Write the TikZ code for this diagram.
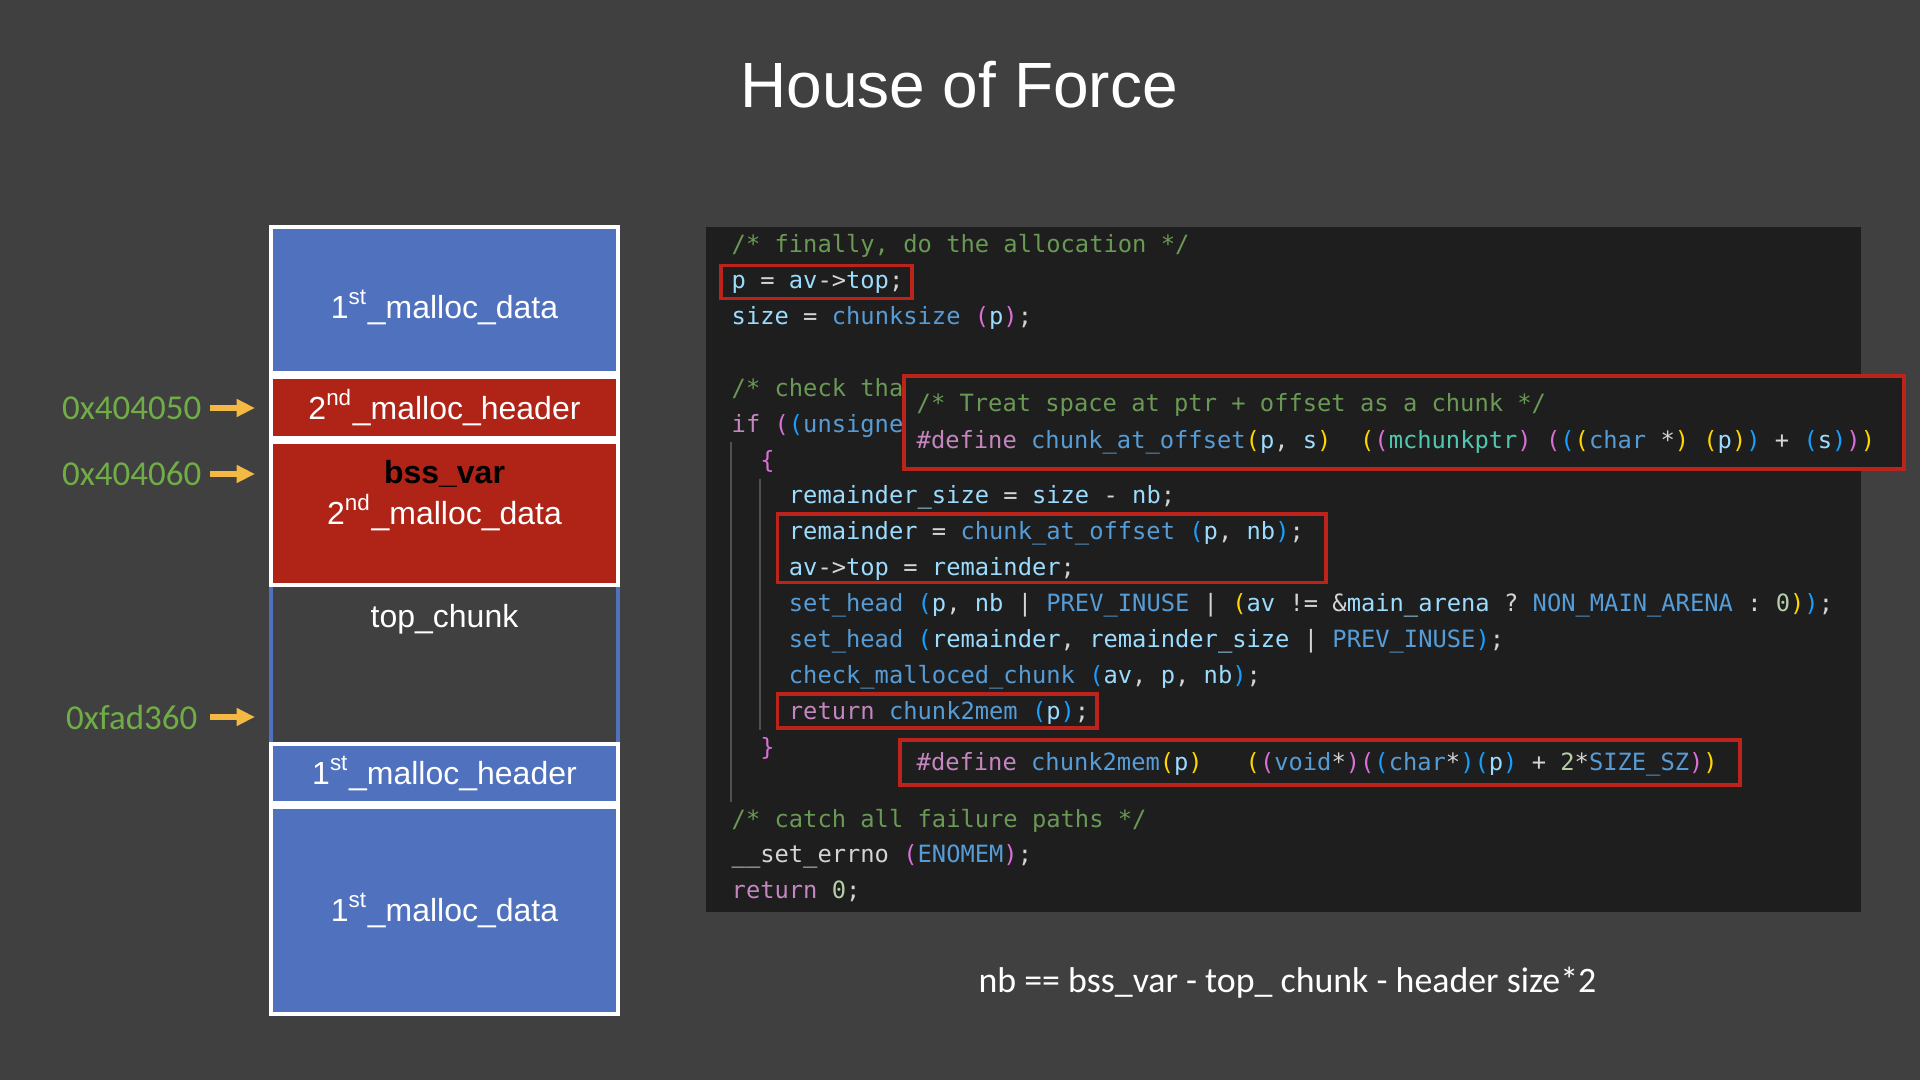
\documentclass[tikz,border=0pt]{standalone}
\usepackage{fontspec}
\setmainfont{Liberation Sans}
\setmonofont{DejaVu Sans Mono}
\newfontfamily\calfont{Carlito}
\usepackage{tikz}
\usetikzlibrary{arrows.meta,positioning}
\usepackage{xcolor}
\definecolor{hfBg}{HTML}{404040}
\definecolor{hfBlue}{HTML}{4F71BE}
\definecolor{hfRed}{HTML}{B02418}
\definecolor{hfGold}{HTML}{F4B942}
\definecolor{hfGreen}{HTML}{70AD47}
\definecolor{cdBg}{HTML}{1E1E1E}
\definecolor{cdRed}{HTML}{BC231A}
\definecolor{cdGuide}{HTML}{505050}
\definecolor{cdText}{HTML}{D4D4D4}
\definecolor{cdCom}{HTML}{6A9955}
\definecolor{cdVar}{HTML}{9CDCFE}
\definecolor{cdFun}{HTML}{569CD6}
\definecolor{cdKey}{HTML}{C586C0}
\definecolor{cdType}{HTML}{4EC9B0}
\definecolor{cdNum}{HTML}{B5CEA8}
\definecolor{brYel}{HTML}{FFD700}
\definecolor{brPnk}{HTML}{DA70D6}
\definecolor{brBlu}{HTML}{179FFF}
\newcommand{\cCm}[1]{\textcolor{cdCom}{#1}}
\newcommand{\cVr}[1]{\textcolor{cdVar}{#1}}
\newcommand{\cFn}[1]{\textcolor{cdFun}{#1}}
\newcommand{\cKw}[1]{\textcolor{cdKey}{#1}}
\newcommand{\cTy}[1]{\textcolor{cdType}{#1}}
\newcommand{\cNm}[1]{\textcolor{cdNum}{#1}}
\newcommand{\bY}[1]{\textcolor{brYel}{#1}}
\newcommand{\bP}[1]{\textcolor{brPnk}{#1}}
\newcommand{\bB}[1]{\textcolor{brBlu}{#1}}
\tikzset{
  blk/.style={draw=white, line width=1.14pt, minimum width=3.47cm, inner sep=0pt, text=white, font=\fontsize{9.1}{11.7}\selectfont},
  lbl/.style={inner sep=0pt, outer sep=0pt, text=white, align=center, font=\fontsize{9.1}{11.7}\selectfont},
  topside/.style={draw=hfBlue, line width=1.14pt},
  addr/.style={inner sep=0pt, anchor=east, text=hfGreen, font=\calfont\fontsize{9.95}{12}\selectfont},
  goldarr/.style={-{Triangle[length=5.2pt,width=4.8pt]}, line width=1.9pt, draw=hfGold, shorten <=0.08cm, shorten >=0.14cm},
  codebg/.style={fill=cdBg, inner sep=0pt},
  code/.style={inner sep=0pt, anchor=base west, text=cdText, font=\ttfamily\fontsize{6.76}{8}\selectfont},
  hl/.style={draw=cdRed, line width=0.9pt, inner sep=0pt},
  ovl/.style={draw=cdRed, fill=cdBg, line width=0.9pt, inner sep=0pt},
  guide/.style={draw=cdGuide, line width=0.3pt}
}
\begin{document}
\begin{tikzpicture}[x=1cm,y=1cm]
  \useasboundingbox (0,0) rectangle (19.2,10.8);
  \fill[hfBg] (0,0) rectangle (19.2,10.8);
  \node[text=white, font=\fontsize{18.2}{21}\selectfont] (title) at (9.59,9.95) {House of Force};
  % heap layout
  \node[blk, fill=hfBlue, minimum height=1.46cm, anchor=north] (data1) at (4.445,8.55) {\raisebox{-2pt}[7.7pt][1.4pt]{1\textsuperscript{st}\_malloc\_data}};
  \node[blk, fill=hfRed, minimum height=0.61cm, below=0pt of data1] (hdr2) {2\textsuperscript{nd}\_malloc\_header};
  \node[blk, fill=hfRed, minimum height=1.43cm, below=0pt of hdr2] (data2) {};
  \node[blk, draw=none, minimum height=1.51cm, below=0pt of data2] (topc) {};
  \node[blk, fill=hfBlue, minimum height=0.59cm, below=0pt of topc] (hdr1) {1\textsuperscript{st}\_malloc\_header};
  \node[blk, fill=hfBlue, minimum height=2.07cm, below=0pt of hdr1] (data1b) {1\textsuperscript{st}\_malloc\_data};
  \draw[topside] ([xshift=0.57pt]topc.north west) -- ([xshift=0.57pt]topc.south west);
  \draw[topside] ([xshift=-0.57pt]topc.north east) -- ([xshift=-0.57pt]topc.south east);
  \node[lbl, below=0.2 of data2.north] (bssLbl) {{\bfseries\color{black}bss\_var}\\2\textsuperscript{nd}\_malloc\_data};
  \node[lbl, below=0.17 of topc.north] (topLbl) {top\_chunk};
  % addresses
  \node[addr] (adr1) at (2.02,6.72) {0x404050};
  \node[addr] (adr2) at (2.02,6.06) {0x404060};
  \node[addr] (adr3) at (1.98,3.63) {0xfad360};
  \draw[goldarr] (adr1.east) -- (adr1.east -| hdr2.west);
  \draw[goldarr] (adr2.east) -- (adr2.east -| data2.west);
  \draw[goldarr] ([xshift=0.04cm]adr3.east) -- (adr3.east -| topc.west);
  % code panel
  \node[codebg, minimum width=11.55cm, minimum height=6.85cm] (panel) at (12.835,5.105) {};
  \draw[guide] (7.31,6.38) -- (7.31,2.78);
  \draw[guide] (7.60,6.013) -- (7.60,3.497);
  \node[code] (l1) at (7.31,8.273) {\cCm{/* finally, do the allocation */}};
  \node[code] (l2) at (7.31,7.914) {\cVr{p} = \cVr{av}->\cVr{top};};
  \node[code] (l3) at (7.31,7.555) {\cVr{size} = \cFn{chunksize} \bP{(}\cVr{p}\bP{)};};
  \node[code] (l5) at (7.31,6.837) {\cCm{/* check tha}};
  \node[code] (l6) at (7.31,6.478) {\cKw{if} \bP{(}\bB{(}\cFn{unsigne}};
  \node[code] (l7) at (7.596,6.119) {\bP{\{}};
  \node[code] (l8) at (7.882,5.760) {\cVr{remainder\_size} = \cVr{size} - \cVr{nb};};
  \node[code] (l9) at (7.882,5.401) {\cVr{remainder} = \cFn{chunk\_at\_offset} \bB{(}\cVr{p}, \cVr{nb}\bB{)};};
  \node[code] (l10) at (7.882,5.042) {\cVr{av}->\cVr{top} = \cVr{remainder};};
  \node[code] (l11) at (7.882,4.683) {\cFn{set\_head} \bB{(}\cVr{p}, \cVr{nb} | \cFn{PREV\_INUSE} | \bY{(}\cVr{av} != \&\cVr{main\_arena} ? \cFn{NON\_MAIN\_ARENA} : \cNm{0}\bY{)}\bB{)};};
  \node[code] (l12) at (7.882,4.324) {\cFn{set\_head} \bB{(}\cVr{remainder}, \cVr{remainder\_size} | \cFn{PREV\_INUSE}\bB{)};};
  \node[code] (l13) at (7.882,3.965) {\cFn{check\_malloced\_chunk} \bB{(}\cVr{av}, \cVr{p}, \cVr{nb}\bB{)};};
  \node[code] (l14) at (7.882,3.606) {\cKw{return} \cFn{chunk2mem} \bB{(}\cVr{p}\bB{)};};
  \node[code] (l15) at (7.596,3.247) {\bP{\}}};
  \node[code] (l17) at (7.31,2.529) {\cCm{/* catch all failure paths */}};
  \node[code] (l18) at (7.31,2.170) {\_\_set\_errno \bP{(}\cFn{ENOMEM}\bP{)};};
  \node[code] (l19) at (7.31,1.811) {\cKw{return} \cNm{0};};
  % highlights
  \node[hl, minimum width=1.91cm, minimum height=0.33cm] (hlTop) at (8.165,7.98) {};
  \node[hl, minimum width=5.484cm, minimum height=0.686cm] (hlRem) at (10.518,5.317) {};
  \node[hl, minimum width=3.194cm, minimum height=0.34cm] (hlRet) at (9.373,3.69) {};
  % macro call-outs
  \node[ovl, minimum width=10cm, minimum height=0.93cm] (ovOffset) at (14.04,6.575) {};
  \node[code] (d1) at (9.16,6.681) {\cCm{/* Treat space at ptr + offset as a chunk */}};
  \node[code] (d2) at (9.16,6.314) {\cKw{\#define} \cFn{chunk\_at\_offset}\bY{(}\cVr{p}, \cVr{s}\bY{)}~~\bY{(}\bP{(}\cTy{mchunkptr}\bP{)} \bP{(}\bB{(}\bY{(}\cFn{char} *\bY{)} \bY{(}\cVr{p}\bY{)}\bB{)} + \bB{(}\cVr{s}\bB{)}\bP{)}\bY{)}};
  \node[ovl, minimum width=8.4cm, minimum height=0.45cm] (ovMem) at (13.2,3.175) {};
  \node[code] (d3) at (9.16,3.094) {\cKw{\#define} \cFn{chunk2mem}\bY{(}\cVr{p}\bY{)}~~~\bY{(}\bP{(}\cFn{void}*\bP{)}\bP{(}\bB{(}\cFn{char}*\bB{)}\bB{(}\cVr{p}\bB{)} + \cNm{2}*\cFn{SIZE\_SZ}\bP{)}\bY{)}};
  \node[text=white, font=\calfont\fontsize{10.2}{12}\selectfont] (nbEq) at (12.875,0.97) {nb == bss\_var - top\_ chunk - header size*2};
\end{tikzpicture}
\end{document}
